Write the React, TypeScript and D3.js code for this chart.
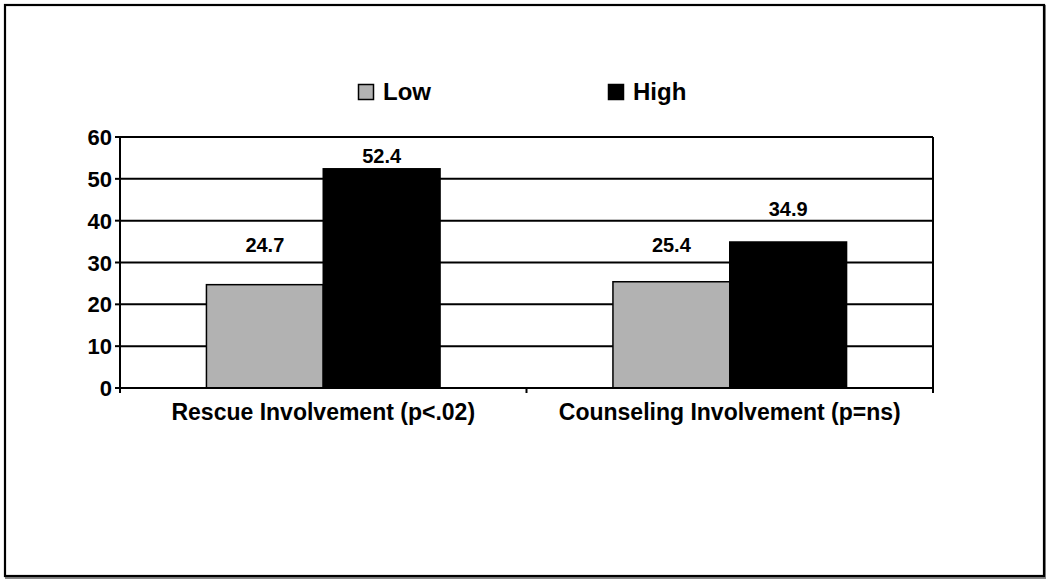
import React from "react";
import * as d3 from "d3";

const categories = ["Rescue Involvement (p<.02)", "Counseling Involvement (p=ns)"];
const seriesNames = ["Low", "High"];
const lowValues = [24.7, 25.4];
const highValues = [52.4, 34.9];
const yTicks = [0, 10, 20, 30, 40, 50, 60];

// label lift above bar top (px), per series per category (layout)
const labelLiftLow = [33, 30];
const labelLiftHigh = [6, 26];

const colors: Record<string, string> = { Low: "#b2b2b2", High: "#000000" };
const FONT = "'Liberation Sans', Arial, Helvetica, sans-serif";

export default function App() {
  const W = 1050, H = 580;
  const left = 120, right = 933, top = 137, bottom = 388;
  const x0 = d3.scaleBand<string>().domain(categories).range([left, right]).paddingInner(0).paddingOuter(0);
  const x1 = d3.scaleBand<string>().domain(seriesNames).range([0, x0.bandwidth()]).paddingInner(0).paddingOuter(0.74);
  const y = d3.scaleLinear().domain([0, 60]).range([bottom, top]);
  const valuesBySeries: Record<string, number[]> = { Low: lowValues, High: highValues };
  const liftBySeries: Record<string, number[]> = { Low: labelLiftLow, High: labelLiftHigh };
  const catTicks = [left, ...categories.map((c) => (x0(c) as number) + x0.bandwidth())];

  return (
    <svg width={W} height={H} style={{ position: "absolute", left: 0, top: 0, background: "#fff" }}>
      {/* outer frame with slight shadow */}
      <rect x={6} y={6} width={1039} height={572} fill="none" stroke="#888" strokeWidth={2} />
      <rect x={5} y={5} width={1039} height={571} fill="#fff" stroke="#000" strokeWidth={2.2} />

      {/* legend */}
      <g fontFamily={FONT} fontWeight="bold" fontSize={24}>
        <rect x={358.5} y={84.5} width={15} height={15} fill={colors.Low} stroke="#000" strokeWidth={1.5} />
        <text x={383} y={100}>Low</text>
        <rect x={608.5} y={84.5} width={15} height={15} fill={colors.High} stroke="#000" strokeWidth={1.5} />
        <text x={633} y={100}>High</text>
      </g>

      {/* gridlines */}
      {yTicks.filter((t) => t > 0).map((t) => (
        <line key={t} x1={left} x2={right} y1={y(t)} y2={y(t)} stroke="#000" strokeWidth={2} />
      ))}

      {/* bars */}
      {categories.map((c, ci) => (
        <g key={c} transform={`translate(${x0(c)},0)`}>
          {seriesNames.map((s) => {
            const v = valuesBySeries[s][ci];
            return (
              <rect key={s} x={x1(s)} y={y(v)} width={x1.bandwidth()} height={y(0) - y(v)}
                fill={colors[s]} stroke="#000" strokeWidth={1.5} />
            );
          })}
        </g>
      ))}

      {/* value labels */}
      <g fontFamily={FONT} fontWeight="bold" fontSize={20} textAnchor="middle">
        {categories.map((c, ci) =>
          seriesNames.map((s) => {
            const v = valuesBySeries[s][ci];
            const cx = (x0(c) as number) + (x1(s) as number) + x1.bandwidth() / 2;
            return (
              <text key={c + s} x={cx} y={y(v) - liftBySeries[s][ci]}>{v.toFixed(1)}</text>
            );
          })
        )}
      </g>

      {/* axes */}
      <line x1={left} x2={left} y1={top} y2={bottom} stroke="#000" strokeWidth={2} />
      <line x1={right} x2={right} y1={top} y2={bottom + 5} stroke="#000" strokeWidth={2} />
      <line x1={left - 5} x2={right} y1={bottom} y2={bottom} stroke="#000" strokeWidth={2} />
      {yTicks.map((t) => (
        <line key={"yt" + t} x1={left - 5} x2={left} y1={y(t)} y2={y(t)} stroke="#000" strokeWidth={2} />
      ))}
      {catTicks.map((cx, i) => (
        <line key={"xt" + i} x1={cx} x2={cx} y1={bottom} y2={bottom + 5} stroke="#000" strokeWidth={2} />
      ))}
      <g fontFamily={FONT} fontWeight="bold">
        {yTicks.map((t) => (
          <text key={"yl" + t} x={left - 8} y={y(t) + 8} textAnchor="end" fontSize={22}>{t}</text>
        ))}
        {categories.map((c) => (
          <text key={"xl" + c} x={(x0(c) as number) + x0.bandwidth() / 2} y={420} textAnchor="middle" fontSize={23}>{c}</text>
        ))}
      </g>
    </svg>
  );
}
